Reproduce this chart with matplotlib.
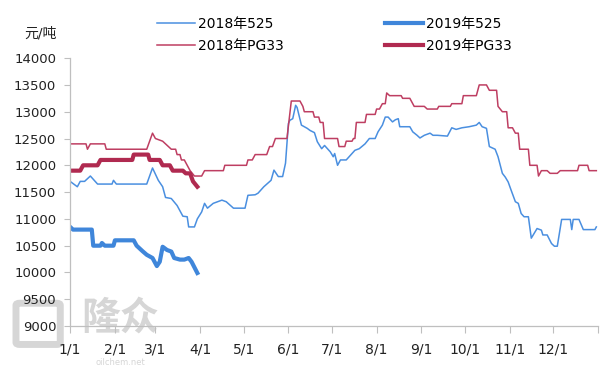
import matplotlib
matplotlib.use("Agg")
import matplotlib.pyplot as plt
from matplotlib.patches import FancyBboxPatch

plt.rcParams['font.family'] = ['DejaVu Sans', 'Noto Sans CJK SC']

# day of year (0 = 1/1) and price (元/吨)
days_525_2018 = [0, 5, 7, 10, 14, 19, 29, 30, 32, 53, 57, 61, 64, 66, 70, 74, 76, 78, 81, 82, 86,
                 88, 91, 93, 95, 99, 105, 108, 113, 121, 123, 128, 130, 134, 139, 141, 144, 147,
                 149, 151, 152, 154, 156, 157, 160, 164, 166, 169, 171, 174, 176, 180, 182, 183,
                 185, 187, 191, 194, 197, 200, 204, 207, 211, 213, 216, 218, 220, 223, 225, 227,
                 228, 235, 237, 240, 242, 245, 249, 251, 254, 261, 264, 267, 271, 276, 281, 283,
                 285, 288, 290, 294, 296, 299, 301, 303, 305, 308, 310, 312, 314, 317, 319, 321,
                 323, 326, 327, 330, 333, 335, 337, 340, 346, 347, 348, 352, 355, 363, 364]
vals_525_2018 = [11700, 11600, 11700, 11700, 11800, 11650, 11650, 11720, 11650, 11650, 11950,
                 11720, 11600, 11400, 11380, 11250, 11150, 11050, 11040, 10850, 10850, 11000,
                 11130, 11290, 11200, 11290, 11350, 11320, 11200, 11200, 11440, 11450, 11480,
                 11600, 11720, 11910, 11790, 11790, 12040, 12780, 12840, 12870, 13120, 13080,
                 12750, 12690, 12650, 12610, 12440, 12310, 12370, 12250, 12160, 12220, 12000,
                 12100, 12100, 12190, 12280, 12310, 12400, 12500, 12500, 12625, 12750, 12900,
                 12900, 12810, 12850, 12870, 12720, 12720, 12625, 12560, 12510, 12560, 12600,
                 12560, 12560, 12545, 12700, 12670, 12700, 12720, 12750, 12800, 12720, 12690,
                 12350, 12300, 12160, 11850, 11780, 11690, 11540, 11320, 11290, 11100, 11040,
                 11040, 10640, 10730, 10820, 10790, 10700, 10700, 10540, 10490, 10490, 10990,
                 10990, 10800, 10990, 10990, 10800, 10800, 10850]

days_525_2019 = [0, 2, 15, 16, 21, 22, 24, 30, 31, 44, 46, 50, 53, 57, 60, 62, 64, 67, 70, 72,
                 76, 79, 82, 84, 88]
vals_525_2019 = [10850, 10800, 10800, 10500, 10500, 10550, 10500, 10500, 10600, 10600, 10500,
                 10400, 10330, 10270, 10120, 10200, 10480, 10420, 10390, 10270, 10240, 10240,
                 10270, 10200, 9990]

days_pg33_2018 = [0, 11, 12, 14, 24, 25, 53, 55, 57, 59, 64, 66, 70, 73, 74, 76, 77, 79, 81, 83,
                  86, 91, 93, 106, 107, 122, 123, 126, 128, 136, 138, 140, 142, 150, 153, 159,
                  161, 162, 168, 169, 172, 173, 175, 176, 185, 186, 190, 191, 195, 196, 197,
                  198, 204, 205, 211, 212, 214, 216, 218, 219, 221, 229, 230, 235, 237, 238,
                  245, 247, 254, 255, 263, 264, 271, 272, 281, 283, 288, 290, 295, 296, 299,
                  302, 303, 306, 308, 310, 311, 317, 318, 323, 324, 326, 330, 332, 337, 339,
                  351, 352, 358, 359, 364]
vals_pg33_2018 = [12400, 12400, 12300, 12400, 12400, 12300, 12300, 12450, 12600, 12500, 12450,
                  12400, 12300, 12300, 12200, 12200, 12100, 12100, 12000, 11900, 11800, 11800,
                  11900, 11900, 12000, 12000, 12100, 12100, 12200, 12200, 12350, 12350, 12500,
                  12500, 13200, 13200, 13100, 13000, 13000, 12900, 12900, 12800, 12800, 12500,
                  12500, 12350, 12350, 12450, 12450, 12500, 12500, 12800, 12800, 12950, 12950,
                  13050, 13050, 13150, 13150, 13350, 13300, 13300, 13250, 13250, 13150, 13100,
                  13100, 13050, 13050, 13100, 13100, 13150, 13150, 13300, 13300, 13500, 13500,
                  13400, 13400, 13100, 13000, 13000, 12700, 12700, 12600, 12600, 12300, 12300,
                  12000, 12000, 11800, 11900, 11900, 11850, 11850, 11900, 11900, 12000, 12000,
                  11900, 11900]

days_pg33_2019 = [0, 7, 9, 19, 21, 43, 44, 54, 55, 62, 64, 69, 71, 78, 80, 83, 85, 88]
vals_pg33_2019 = [11900, 11900, 12000, 12000, 12100, 12100, 12200, 12200, 12100, 12100, 12000,
                  12000, 11900, 11900, 11850, 11850, 11700, 11600]

month_days = [0, 31, 59, 90, 120, 151, 181, 212, 243, 273, 304, 334, 365]
month_labels = ['1/1', '2/1', '3/1', '4/1', '5/1', '6/1', '7/1', '8/1', '9/1', '10/1',
                '11/1', '12/1', '']

fig = plt.figure(figsize=(6.15, 3.68), dpi=100)
ax = fig.add_axes([0.114, 0.114, 0.858, 0.728])

blue_thin = '#4A8FE0'
blue_thick = '#3F86DA'
red_thin = '#BE3E62'
red_thick = '#B02A50'

# watermark (behind everything)
fig.patches.append(FancyBboxPatch((0.032, 0.07), 0.06, 0.1, boxstyle='round,pad=0.006',
                                  transform=fig.transFigure, fill=False, ec='#D6D6D6',
                                  lw=5, zorder=-5))
fig.text(0.195, 0.135, '隆众', fontsize=28, fontweight='bold', color='#D6D6D6',
         ha='center', va='center', zorder=-5)
fig.text(0.195, 0.002, 'oilchem.net', fontsize=6, color='#D6D6D6', ha='center',
         va='bottom', zorder=-5)

l1, = ax.plot(days_525_2018, vals_525_2018, color=blue_thin, lw=1.1, label='2018年525')
l2, = ax.plot(days_525_2019, vals_525_2019, color=blue_thick, lw=3.0, label='2019年525',
              solid_joinstyle='round')
l3, = ax.plot(days_pg33_2018, vals_pg33_2018, color=red_thin, lw=1.1, label='2018年PG33')
l4, = ax.plot(days_pg33_2019, vals_pg33_2019, color=red_thick, lw=3.0, label='2019年PG33',
              solid_joinstyle='round')

ax.set_xlim(0, 365)
ax.set_ylim(9000, 14000)
ax.set_yticks(range(9000, 14001, 500))
ax.set_xticks(month_days)
ax.set_xticklabels(month_labels)
ax.patch.set_alpha(0)

for s in ['top', 'right']:
    ax.spines[s].set_visible(False)
for s in ['left', 'bottom']:
    ax.spines[s].set_color('#BFBFBF')
    ax.spines[s].set_linewidth(0.9)
ax.tick_params(axis='y', length=4, color='#BFBFBF', labelsize=9.5, pad=6, labelcolor='#222222')
ax.tick_params(axis='x', length=5, color='#BFBFBF', labelsize=10, pad=7, labelcolor='#222222')

fig.text(0.066, 0.91, '元/吨', fontsize=10, ha='center', va='center', color='#222222')

fig.legend(handles=[l1, l3, l2, l4], ncol=2, loc='center left',
           bbox_to_anchor=(0.235, 0.905), frameon=False, fontsize=10,
           handlelength=2.7, handletextpad=0.25, columnspacing=7.3, labelspacing=0.55)

fig.savefig('out.png', dpi=100)
